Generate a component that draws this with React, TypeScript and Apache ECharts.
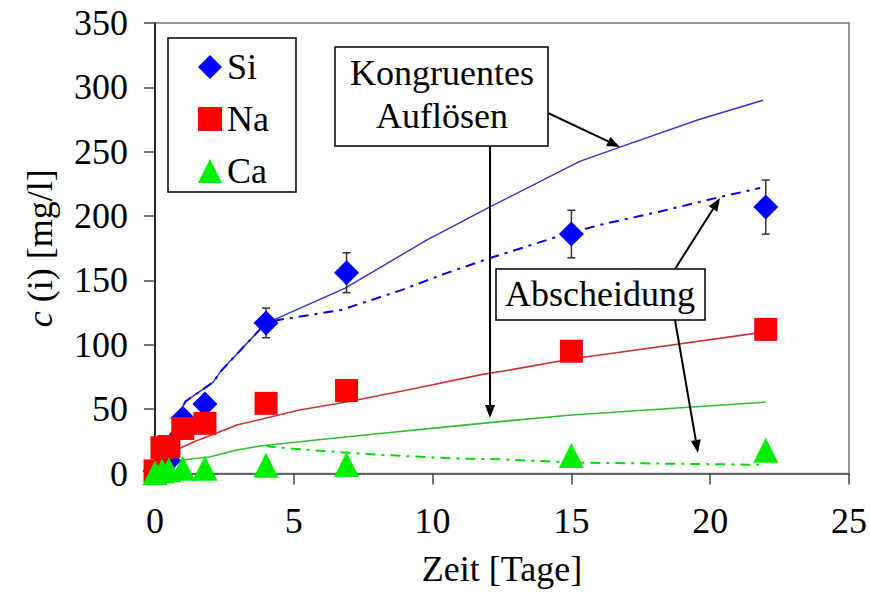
import React, { useEffect, useRef } from "react";
import * as echarts from "echarts";

// ---- Measured data (Zeit in Tagen, c in mg/l) ----
const T_MEAS = [0, 0.25, 0.5, 1, 1.8, 4, 6.9, 15, 22];
const SI = [2, 6, 10, 43, 54, 117, 156, 186, 207];
const SI_ERR = [0, 0, 0, 0, 0, 11.5, 15.5, 18.5, 21];
const NA = [2, 20, 21, 35, 39, 54.5, 64.5, 95, 112];
const CA = [0.5, 2, 3, 4, 4, 6.5, 7, 14, 18];

// ---- Model curves ----
const T_SI_KONG = [0, 0.25, 0.5, 0.8, 0.95, 1.1, 1.5, 2.1, 2.35, 4, 4.3, 6.85, 9.8, 12.1, 15.3, 16.8, 19.6, 21.9];
const SI_KONG = [0, 12, 28, 40, 50, 56, 62, 71, 79, 117, 119.5, 144, 181.5, 207.5, 242.5, 254, 275, 290];
const T_SI_ABS = [0, 0.25, 0.5, 0.8, 0.95, 1.1, 1.5, 2.1, 2.35, 4, 4.5, 6.7, 8.9, 10.5, 12.1, 14.5, 16, 18.2, 20.35, 21.8];
const SI_ABS = [0, 12, 28, 40, 50, 56, 62, 71, 79, 117, 119.5, 127, 142.7, 155.7, 167.6, 184, 193, 203.6, 214.8, 221.8];
const T_NA_KONG = [0, 0.25, 0.5, 0.9, 1.4, 2.2, 2.95, 3.8, 5.2, 7, 9.4, 11.8, 12.8, 15, 22];
const NA_KONG = [2, 12, 16, 19.6, 24.7, 31.3, 37.7, 42, 49.4, 56, 66.3, 77, 80.5, 89, 110];
const T_CA_KONG = [0, 0.25, 0.5, 1, 2, 2.95, 3.8, 5.8, 8.2, 10.6, 12.8, 15, 22];
const CA_KONG = [0, 4, 7, 10.5, 13, 18.3, 21.4, 26, 31.3, 36.4, 41.1, 45.5, 55.5];
const T_CA_ABS = [4, 4.15, 5.8, 8.2, 10.6, 12.5, 15, 21.8];
const CA_ABS = [22, 20.8, 17.8, 14.4, 11.8, 11, 8.5, 6.8];

const X_TICKS = { min: 0, max: 25, interval: 5 };
const Y_TICKS = { min: 0, max: 350, interval: 50 };

const FONT = "Liberation Serif";
const FS = 36;

const zip = (xs: number[], ys: number[]) => xs.map((x, i) => [x, ys[i]]);

function arrow(x1: number, y1: number, x2: number, y2: number) {
  const a = Math.atan2(y2 - y1, x2 - x1);
  const L = 13, W = 5;
  const bx = x2 - L * Math.cos(a), by = y2 - L * Math.sin(a);
  return [
    { type: "line", z: 100, shape: { x1, y1, x2: bx, y2: by }, style: { stroke: "#000", lineWidth: 2 } },
    {
      type: "polygon", z: 100,
      shape: { points: [[x2, y2], [bx + W * Math.sin(a), by - W * Math.cos(a)], [bx - W * Math.sin(a), by + W * Math.cos(a)]] },
      style: { fill: "#000" },
    },
  ];
}

export default function App() {
  const ref = useRef<HTMLDivElement>(null);
  useEffect(() => {
    if (!ref.current) return;
    const chart = echarts.init(ref.current, undefined, { renderer: "svg" });
    const lineBase = { type: "line", symbol: "none", smooth: false, z: 2, silent: true };
    chart.setOption({
      animation: false,
      backgroundColor: "#fff",
      textStyle: { fontFamily: FONT },
      grid: { left: 155, top: 23, right: 21, bottom: 119.5, show: true, borderColor: "#777", borderWidth: 1.5 },
      xAxis: {
        type: "value", ...X_TICKS,
        name: "Zeit [Tage]", nameLocation: "middle", nameGap: 77,
        nameTextStyle: { fontFamily: FONT, fontSize: FS, color: "#000" },
        axisLine: { lineStyle: { color: "#666", width: 2 } },
        axisTick: { show: true, inside: false, length: 11, lineStyle: { color: "#444", width: 1.5 } },
        axisLabel: { fontFamily: FONT, fontSize: FS, color: "#000", margin: 29 },
        splitLine: { show: false },
      },
      yAxis: {
        type: "value", ...Y_TICKS,
        name: "{i|c} (i) [mg/l]", nameLocation: "middle", nameGap: 97,
        nameTextStyle: {
          fontFamily: FONT, fontSize: FS, color: "#000",
          rich: { i: { fontFamily: FONT, fontSize: FS, fontStyle: "italic", color: "#000" } },
        },
        axisLine: { lineStyle: { color: "#000", width: 1.5 } },
        axisTick: { show: true, inside: false, length: 11, lineStyle: { color: "#444", width: 1.5 } },
        axisLabel: { fontFamily: FONT, fontSize: FS, color: "#000", margin: 27 },
        splitLine: { show: false },
      },
      legend: {
        data: ["Si", "Na", "Ca"],
        orient: "vertical", left: 168, top: 38,
        padding: [11, 27, 3, 30], itemGap: 16,
        itemWidth: 24, itemHeight: 24,
        borderColor: "#000", borderWidth: 1.5, backgroundColor: "#fff",
        textStyle: { fontFamily: FONT, fontSize: FS, color: "#000", lineHeight: 36 },
        z: 50,
      },
      series: [
        { ...lineBase, name: "Si kongruent", data: zip(T_SI_KONG, SI_KONG), lineStyle: { color: "#3333cc", width: 1.4 } },
        { ...lineBase, name: "Si Abscheidung", data: zip(T_SI_ABS, SI_ABS), lineStyle: { color: "#0000ee", width: 2, type: [10, 6, 3, 6] } },
        { ...lineBase, name: "Na kongruent", data: zip(T_NA_KONG, NA_KONG), lineStyle: { color: "#cc3333", width: 1.6 } },
        { ...lineBase, name: "Ca kongruent", data: zip(T_CA_KONG, CA_KONG), lineStyle: { color: "#33bb33", width: 1.6 } },
        { ...lineBase, name: "Ca Abscheidung", data: zip(T_CA_ABS, CA_ABS), lineStyle: { color: "#00dd00", width: 2, type: [10, 6, 3, 6] } },
        {
          type: "custom", name: "Si Fehler", z: 3, silent: true,
          data: T_MEAS.map((t, i) => [t, SI[i], SI_ERR[i]]).filter((d) => d[2] > 0),
          renderItem: (params: any, api: any) => {
            const x = api.value(0), y = api.value(1), e = api.value(2);
            const top = api.coord([x, y + e]);
            const bot = api.coord([x, y - e]);
            const w = 4;
            const st = { stroke: "#333", lineWidth: 1.5 };
            return {
              type: "group",
              children: [
                { type: "line", shape: { x1: top[0], y1: top[1], x2: bot[0], y2: bot[1] }, style: st },
                { type: "line", shape: { x1: top[0] - w, y1: top[1], x2: top[0] + w, y2: top[1] }, style: st },
                { type: "line", shape: { x1: bot[0] - w, y1: bot[1], x2: bot[0] + w, y2: bot[1] }, style: st },
              ],
            };
          },
        },
        { type: "scatter", name: "Si", data: zip(T_MEAS, SI), symbol: "diamond", symbolSize: 25, itemStyle: { color: "#0000ff", opacity: 1 }, z: 4, clip: false },
        { type: "scatter", name: "Na", data: zip(T_MEAS, NA), symbol: "rect", symbolSize: 23, itemStyle: { color: "#ff0000", opacity: 1 }, z: 5, clip: false },
        { type: "scatter", name: "Ca", data: zip(T_MEAS, CA), symbol: "triangle", symbolSize: 25, itemStyle: { color: "#00ee00", opacity: 1 }, z: 6, clip: false },
      ],
      graphic: [
        { type: "rect", z: 90, shape: { x: 335, y: 47, width: 213, height: 99 }, style: { fill: "#fff", stroke: "#000", lineWidth: 1.5 } },
        {
          type: "text", z: 91,
          style: { text: "Kongruentes\nAuflösen", x: 442, y: 94, align: "center", verticalAlign: "middle", fontFamily: FONT, fontSize: FS, lineHeight: 43, fill: "#000" },
        },
        ...arrow(490, 146, 490, 418),
        ...arrow(548, 113, 620, 147),
        { type: "rect", z: 90, shape: { x: 496, y: 269, width: 209, height: 51 }, style: { fill: "#fff", stroke: "#000", lineWidth: 1.5 } },
        {
          type: "text", z: 91,
          style: { text: "Abscheidung", x: 600, y: 294, align: "center", verticalAlign: "middle", fontFamily: FONT, fontSize: FS, fill: "#000" },
        },
        ...arrow(675, 269, 720, 198),
        ...arrow(675, 320, 698, 453),
      ],
    });
    return () => chart.dispose();
  }, []);
  return <div ref={ref} style={{ position: "fixed", left: 0, top: 0, width: 870, height: 593 }} />;
}
